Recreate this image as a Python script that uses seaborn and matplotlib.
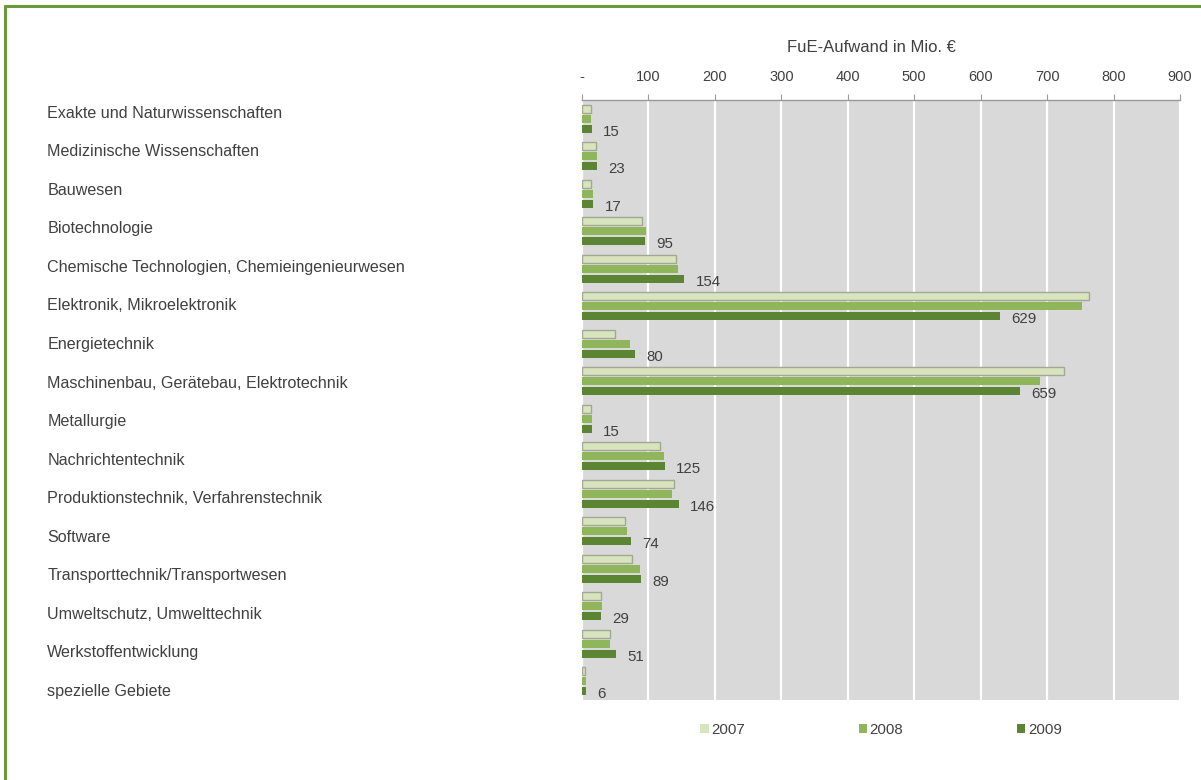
import matplotlib
matplotlib.use("Agg")
import matplotlib.pyplot as plt
from matplotlib.lines import Line2D
from matplotlib.transforms import ScaledTranslation
import seaborn as sns
import pandas as pd

categories = [
    "Exakte und Naturwissenschaften",
    "Medizinische Wissenschaften",
    "Bauwesen",
    "Biotechnologie",
    "Chemische Technologien, Chemieingenieurwesen",
    "Elektronik, Mikroelektronik",
    "Energietechnik",
    "Maschinenbau, Gerätebau, Elektrotechnik",
    "Metallurgie",
    "Nachrichtentechnik",
    "Produktionstechnik, Verfahrenstechnik",
    "Software",
    "Transporttechnik/Transportwesen",
    "Umweltschutz, Umwelttechnik",
    "Werkstoffentwicklung",
    "spezielle Gebiete",
]
years = ["2007", "2008", "2009"]
values_2007 = [14, 21, 14, 90, 142, 763, 49, 726, 14, 118, 138, 64, 75, 28, 42, 5]
values_2008 = [14, 23, 16, 97, 144, 752, 72, 689, 15, 124, 136, 67, 87, 30, 42, 6]
values_2009 = [15, 23, 17, 95, 154, 629, 80, 659, 15, 125, 146, 74, 89, 29, 51, 6]
x_ticks = [0, 100, 200, 300, 400, 500, 600, 700, 800, 900]
x_tick_labels = ["-", "100", "200", "300", "400", "500", "600", "700", "800", "900"]
x_title = "FuE-Aufwand in Mio. €"

colors = {"2007": "#d7e4bd", "2008": "#8fb65a", "2009": "#5b8532"}
text_color = "#404040"

rows = []
for yr, vals in zip(years, [values_2007, values_2008, values_2009]):
    for c, v in zip(categories, vals):
        rows.append({"Kategorie": c, "Jahr": yr, "Wert": v})
df = pd.DataFrame(rows)

sns.set_style("white")
plt.rcParams["font.family"] = ["Liberation Sans", "DejaVu Sans"]

W, H = 1201, 780
fig = plt.figure(figsize=(W / 100, H / 100), dpi=100)
ax_l, ax_r, ax_t, ax_b = 582, 1180, 100, 700
ax = fig.add_axes([ax_l / W, 1 - ax_b / H, (ax_r - ax_l) / W, (ax_b - ax_t) / H])
ax.set_facecolor("#d9d9d9")

sns.barplot(data=df, y="Kategorie", x="Wert", hue="Jahr", order=categories,
            hue_order=years, palette=colors, orient="h", width=0.8, gap=0.17,
            errorbar=None, ax=ax, saturation=1, linewidth=0)

for p in ax.containers[0]:
    p.set_edgecolor("#a3a894")
    p.set_linewidth(1.0)

ax.set_xlim(0, 900)
ax.xaxis.tick_top()
ax.set_xticks(x_ticks)
ax.set_xticklabels(x_tick_labels)
ax.grid(axis="x", color="white", linewidth=1.6)
ax.set_axisbelow(True)
for s in ["left", "right", "bottom"]:
    ax.spines[s].set_visible(False)
ax.spines["top"].set_color("#9a9a9a")
ax.spines["top"].set_linewidth(1.0)
ax.tick_params(axis="x", top=True, bottom=False, direction="out", length=4,
               color="#9a9a9a", pad=7.8, labelsize=10.5, labelcolor=text_color)
ax.tick_params(axis="y", left=False, pad=381.5, labelsize=11.6, labelcolor=text_color)
for i, lab in enumerate(ax.get_yticklabels()):
    lab.set_horizontalalignment("left")
    dy = 7 - i * 1.05
    lab.set_transform(lab.get_transform() + ScaledTranslation(0, dy / 100, fig.dpi_scale_trans))
ax.set_xlabel("")
ax.set_ylabel("")

texts = ax.bar_label(ax.containers[2], labels=[str(v) for v in values_2009],
                     padding=8, fontsize=10.8, color=text_color)
for t in texts:
    t.xyann = (8, -2)

fig.text(871 / W, 1 - 47 / H, x_title, ha="center", va="center",
         fontsize=12, color=text_color)

handles, labels = ax.get_legend_handles_labels()
ax.legend(handles, labels, loc="upper center", bbox_to_anchor=(0.5, -0.015),
          ncol=3, frameon=False, handlelength=0.55, handleheight=0.55,
          handletextpad=0.2, columnspacing=7.55, fontsize=10.8, labelcolor=text_color)

frame_color = "#6b9a3b"
fig.add_artist(Line2D([5 / W, 1], [1 - 6 / H, 1 - 6 / H], transform=fig.transFigure,
                      color=frame_color, linewidth=2.2))
fig.add_artist(Line2D([5 / W, 5 / W], [0, 1 - 6 / H], transform=fig.transFigure,
                      color=frame_color, linewidth=2.2))

fig.savefig("out.png", dpi=100)
